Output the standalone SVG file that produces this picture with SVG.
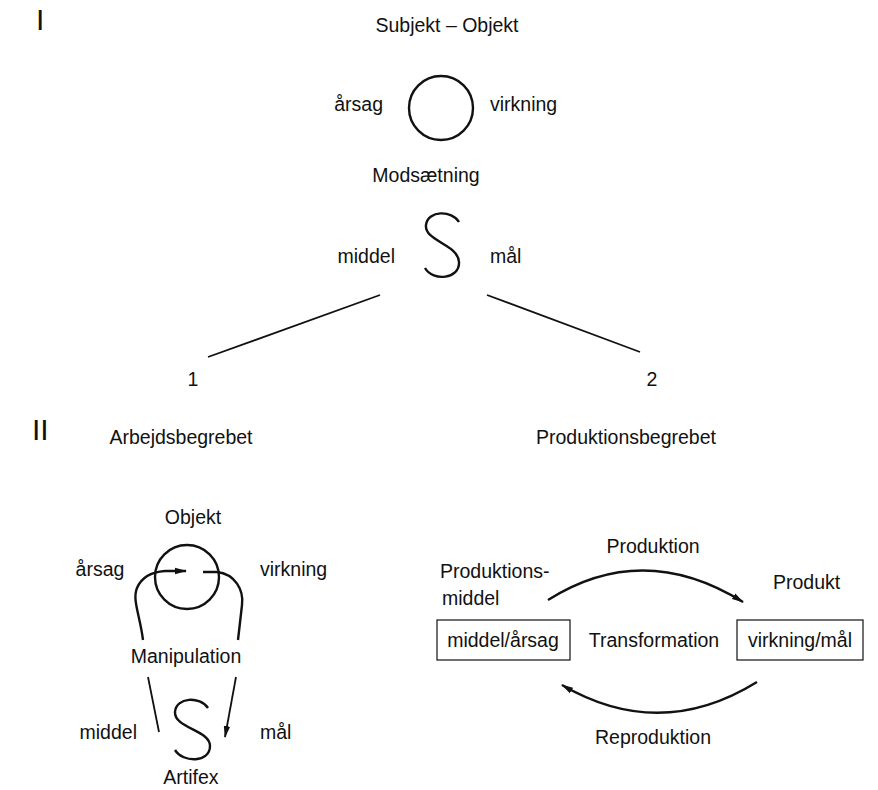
<svg xmlns="http://www.w3.org/2000/svg" width="878" height="790" viewBox="0 0 878 790">
<defs>
<style>
text{font-family:"Liberation Sans",Arial,sans-serif;font-size:19.5px;fill:#111}
.num{font-size:30px}
.m{text-anchor:middle}
.e{text-anchor:end}
.ln{fill:none;stroke:#111;stroke-width:1.8}
.th{fill:none;stroke:#111;stroke-width:2.4}
.box{fill:none;stroke:#111;stroke-width:1.2}
</style>
<marker id="ah" markerWidth="12" markerHeight="8" refX="11" refY="4" orient="auto" markerUnits="userSpaceOnUse">
<path d="M0,0.8 L12,4 L0,7.2 Z" fill="#111"/>
</marker>
</defs>
<rect width="878" height="790" fill="#fff"/>

<g id="section-I">
<text x="36" y="30" class="num">I</text>
<text x="447" y="32" class="m">Subjekt – Objekt</text>
</g>

<g id="top-circle">
<circle cx="441" cy="108" r="32" class="th"/>
<text x="383" y="111" class="e">årsag</text>
<text x="490" y="111">virkning</text>
</g>

<g id="top-modsaetning">
<text x="426" y="182" class="m">Modsætning</text>
</g>

<g id="top-s">
<path class="th" d="M459,222 C452,210 428,210 426,225 C424,241 458,244 459,262 C460,279 433,282 425,268"/>
<text x="395" y="263" class="e">middel</text>
<text x="490" y="263">mål</text>
</g>

<g id="connectors">
<path class="ln" d="M380,295 L208,357"/>
<path class="ln" d="M487,295 L640,352"/>
<path class="th" d="M143,640 C140,615 132,600 137,588 C142,576 152,572 165,571 L186,571" marker-end="url(#ah)"/>
<path class="th" d="M203,572 L217,572 C235,574 244,590 242,605 L238,640"/>
<path class="ln" d="M148,677 L159,732"/>
<path class="ln" d="M236,677 L225,737" marker-end="url(#ah)"/>
<path class="th" d="M548,600 Q643,540 743,602" marker-end="url(#ah)"/>
<path class="th" d="M757,682 Q660,742 562,685" marker-end="url(#ah)"/>
</g>

<g id="branch-1">
<text x="193" y="386" class="m">1</text>
</g>
<g id="branch-2">
<text x="652" y="386" class="m">2</text>
</g>

<g id="section-II">
<text x="32" y="440" class="num">II</text>
</g>

<g id="arbejdsbegrebet">
<text x="181" y="444" class="m">Arbejdsbegrebet</text>
</g>

<g id="produktionsbegrebet">
<text x="626" y="444" class="m">Produktionsbegrebet</text>
</g>

<g id="objekt">
<text x="193" y="524" class="m">Objekt</text>
<circle cx="187" cy="577" r="32" class="th"/>
<text x="100" y="576" class="m">årsag</text>
<text x="260" y="576">virkning</text>
</g>

<g id="manipulation">
<text x="186" y="663" class="m">Manipulation</text>
</g>

<g id="artifex">
<path class="th" d="M208,708 C200,696 176,697 175,712 C174,728 210,730 210,746 C210,763 183,763 175,750"/>
<text x="137" y="739" class="e">middel</text>
<text x="260" y="739">mål</text>
<text x="191" y="784" class="m">Artifex</text>
</g>

<g id="produktionsmiddel">
<text x="440" y="578">Produktions-</text>
<text x="442" y="605">middel</text>
<rect x="437" y="620" width="133" height="40" class="box"/>
<text x="503" y="647" class="m">middel/årsag</text>
</g>

<g id="transformation">
<text x="654" y="647" class="m">Transformation</text>
</g>

<g id="produkt">
<text x="773" y="589">Produkt</text>
<rect x="737" y="620" width="126" height="40" class="box"/>
<text x="800" y="647" class="m">virkning/mål</text>
</g>

<g id="produktion-label">
<text x="653" y="553" class="m">Produktion</text>
</g>

<g id="reproduktion-label">
<text x="653" y="744" class="m">Reproduktion</text>
</g>
</svg>
